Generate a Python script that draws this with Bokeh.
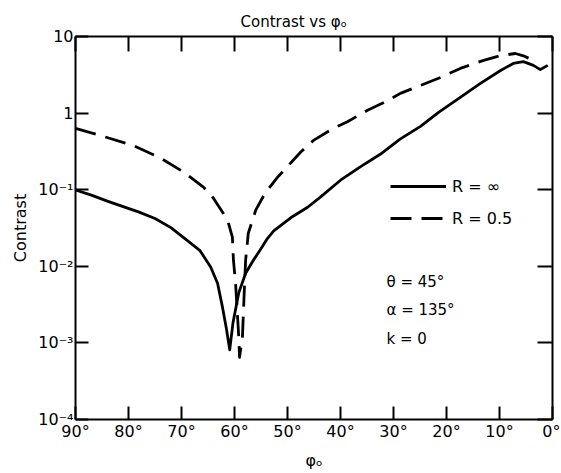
from bokeh.plotting import figure
from bokeh.models import (Range1d, LinearAxis, LogAxis, FixedTicker, Legend, LegendItem,
                          Label, CustomJSTickFormatter)
from bokeh.embed import file_html
from bokeh.resources import INLINE

# ---- data ----
phi_inf = [90, 87, 84, 81, 78, 75, 72, 69, 66.5, 64.5, 63.2, 62.3, 61.5, 60.9,
           60.3, 59.2, 57.9, 56.5, 55.1, 53.8, 52.6, 49.4, 46.2, 43.8, 40.0, 36.2,
           32.5, 28.7, 24.9, 21.5, 17.4, 13.6, 9.8, 7.4, 5.5, 3.6, 2.3, 0.9]
c_inf = [0.099, 0.085, 0.071, 0.060, 0.051, 0.042, 0.032, 0.022, 0.016, 0.0098,
         0.006, 0.003, 0.0015, 0.00081, 0.0018, 0.0045, 0.0081, 0.0118, 0.0166, 0.023,
         0.029, 0.043, 0.059, 0.080, 0.133, 0.20, 0.29, 0.46, 0.67, 1.02, 1.6,
         2.44, 3.6, 4.45, 4.7, 4.2, 3.7, 4.2]

phi_half = [90, 85.3, 79.2, 74, 69.6, 65.8, 64, 61.3, 60.4, 60.2, 59.8, 59.5,
            59.2, 59.05, 58.5, 58.2, 57.9, 57.4, 56.0, 54.2, 51.9, 49.1, 47.5,
            45.1, 41.9, 40.0, 38.7, 34.9, 31.1, 28.7, 24.9, 21.1, 17.4, 13.0,
            10.0, 7.0, 5.5, 4.2]
c_half = [0.63, 0.51, 0.38, 0.26, 0.17, 0.107, 0.078, 0.040, 0.024, 0.012,
          0.006, 0.0027, 0.0012, 0.00065, 0.0012, 0.004, 0.012, 0.027, 0.054,
          0.091, 0.145, 0.235, 0.31, 0.44, 0.60, 0.70, 0.77, 1.09, 1.45, 1.81,
          2.3, 2.92, 3.83, 4.87, 5.6, 6.0, 5.6, 5.1]

x_ticks = [90, 80, 70, 60, 50, 40, 30, 20, 10, 0]
x_tick_labels = ["90°", "80°", "70°", "60°", "50°", "40°", "30°", "20°", "10°", "0°"]
y_ticks = [1e-4, 1e-3, 1e-2, 1e-1, 1, 10]
y_tick_labels = ["10⁻⁴", "10⁻³", "10⁻²", "10⁻¹", "1", "10"]

series_labels = ["R = ∞", "R = 0.5"]
notes = ["θ = 45°", "α = 135°", "k = 0"]
title_text = "Contrast vs φₒ"
x_label = "φₒ"
y_label = "Contrast"

FONT = "DejaVu Sans"

p = figure(width=560, height=472, x_range=Range1d(90, 0), y_range=Range1d(1e-4, 10),
           y_axis_type="log", output_backend="svg", toolbar_location=None,
           min_border_left=75, min_border_right=8, min_border_top=36, min_border_bottom=52)
p.outline_line_color = None
p.xgrid.visible = False
p.ygrid.visible = False
p.background_fill_color = "white"
p.border_fill_color = "white"

p.title.text = title_text
p.title.align = "left"
p.title.offset = 165
p.title.text_font = FONT
p.title.text_font_size = "15px"
p.title.text_font_style = "normal"
p.title.text_color = "black"
p.title.standoff = 12

def style_axis(ax, ticks, tick_in, show_labels):
    ax.ticker = FixedTicker(ticks=ticks)
    ax.axis_line_width = 2
    ax.axis_line_color = "black"
    ax.major_tick_in = tick_in
    ax.major_tick_out = 0
    ax.major_tick_line_width = 2
    ax.minor_tick_line_color = None
    ax.major_label_text_font = FONT
    ax.major_label_text_color = "black"
    if show_labels:
        ax.major_label_text_font_size = "16px"
        ax.major_label_standoff = 2
    else:
        ax.formatter = CustomJSTickFormatter(code="return ''")
        ax.major_label_text_font_size = "1px"
        ax.major_label_standoff = 0

xb = p.xaxis[0]
style_axis(xb, x_ticks, 13, True)
xb.major_label_overrides = dict(zip(x_ticks, x_tick_labels))
xb.axis_label = x_label
xb.axis_label_text_font = FONT
xb.axis_label_text_font_size = "16px"
xb.axis_label_text_font_style = "normal"
xb.axis_label_text_color = "black"
xb.axis_label_standoff = 7

yl = p.yaxis[0]
style_axis(yl, y_ticks, 13, True)
yl.major_label_overrides = dict(zip(y_ticks, y_tick_labels))
yl.axis_label = y_label
yl.axis_label_text_font = FONT
yl.axis_label_text_font_size = "16px"
yl.axis_label_text_font_style = "normal"
yl.axis_label_text_color = "black"
yl.axis_label_standoff = 5

xt = LinearAxis()
style_axis(xt, x_ticks, 15, False)
p.add_layout(xt, "above")

yr = LogAxis()
style_axis(yr, y_ticks, 15, False)
p.add_layout(yr, "right")

r_inf = p.line(phi_inf, c_inf, line_color="black", line_width=2.8, line_join="round")
r_half = p.line(phi_half, c_half, line_color="black", line_width=2.8,
                line_dash="21 10", line_join="round")

legend = Legend(items=[LegendItem(label=series_labels[0], renderers=[r_inf]),
                       LegendItem(label=series_labels[1], renderers=[r_half])],
                location=(315, 191), border_line_color=None, background_fill_alpha=0,
                padding=0, margin=0, spacing=12, glyph_width=56, glyph_height=20,
                label_height=20, label_standoff=6, label_text_font=FONT,
                label_text_font_size="16px", label_text_color="black")
p.add_layout(legend)

for i, t in enumerate(notes):
    p.add_layout(Label(x=311, y=138 - 28.5 * i, x_units="screen", y_units="screen",
                       text=t, text_font=FONT, text_font_size="15px",
                       text_baseline="middle", text_color="black"))

open("out.html", "w").write(file_html(p, INLINE))
